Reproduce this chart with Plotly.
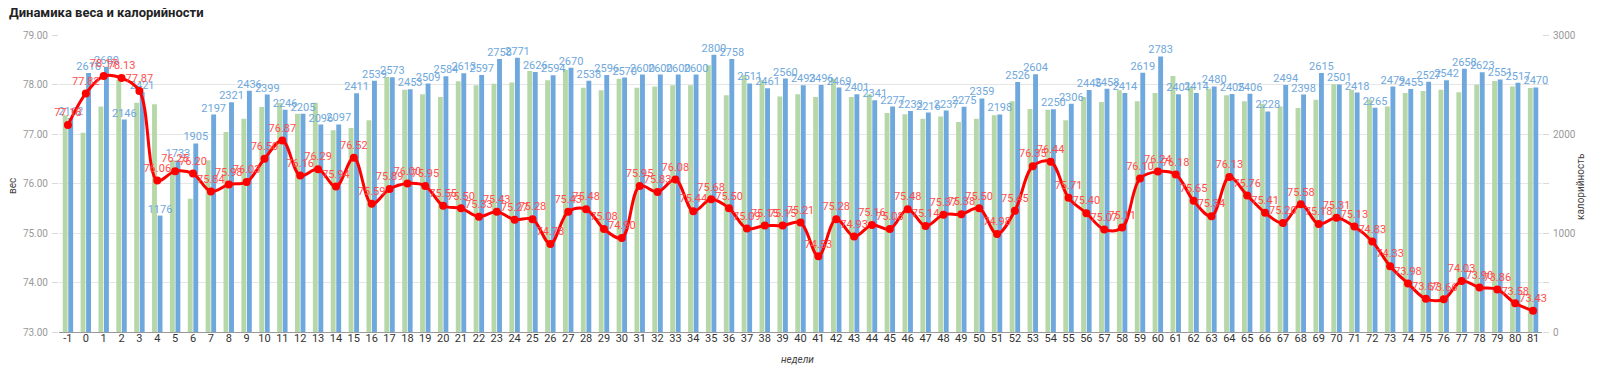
import plotly.graph_objects as go

weeks = [str(w) for w in range(-1, 82)]

weight = [77.18, 77.82, 78.17, 78.13, 77.87, 76.06, 76.25, 76.20, 75.84, 75.98,
          76.03, 76.50, 76.87, 76.16, 76.29, 75.94, 76.52, 75.59, 75.89, 76.00,
          75.95, 75.55, 75.50, 75.33, 75.43, 75.27, 75.28, 74.78, 75.43, 75.48,
          75.08, 74.90, 75.95, 75.83, 76.08, 75.44, 75.68, 75.50, 75.09, 75.15,
          75.15, 75.21, 74.53, 75.28, 74.93, 75.16, 75.08, 75.48, 75.14, 75.37,
          75.38, 75.50, 74.98, 75.45, 76.35, 76.44, 75.71, 75.40, 75.07, 75.11,
          76.10, 76.24, 76.18, 75.65, 75.34, 76.13, 75.76, 75.41, 75.20, 75.58,
          75.18, 75.31, 75.13, 74.83, 74.33, 73.98, 73.67, 73.66, 74.03, 73.90,
          73.86, 73.58, 73.43]

calories = [2162, 2616, 2680, 2146, 2421, 1176, 1733, 1905, 2197, 2321,
            2436, 2399, 2246, 2205, 2096, 2097, 2411, 2539, 2573, 2453,
            2509, 2584, 2613, 2597, 2758, 2771, 2626, 2594, 2670, 2538,
            2596, 2570, 2600, 2600, 2600, 2600, 2800, 2758, 2511, 2461,
            2560, 2493, 2496, 2469, 2401, 2341, 2277, 2233, 2216, 2237,
            2275, 2359, 2198, 2526, 2604, 2250, 2306, 2445, 2458, 2414,
            2619, 2783, 2401, 2414, 2480, 2405, 2406, 2228, 2494, 2398,
            2615, 2501, 2418, 2265, 2479, 2455, 2527, 2542, 2658, 2623,
            2551, 2517, 2470]

norm = [2189, 2013, 2279, 2549, 2316, 2300, 1734, 1347, 1734, 2020,
        2155, 2273, 2313, 2205, 2316, 2037, 2061, 2138, 2576, 2448,
        2401, 2374, 2532, 2492, 2508, 2519, 2636, 2542, 2650, 2468,
        2441, 2559, 2468, 2481, 2492, 2492, 2694, 2391, 2593, 2542,
        2380, 2401, 2374, 2559, 2374, 2401, 2212, 2199, 2155, 2178,
        2121, 2155, 2189, 2330, 2253, 2246, 2138, 2374, 2323, 2441,
        2330, 2414, 2586, 2481, 2458, 2391, 2330, 2306, 2279, 2263,
        2347, 2502, 2448, 2347, 2279, 2414, 2434, 2448, 2421, 2498,
        2535, 2481, 2465]

FONT = "Roboto"
OFF = 8  # page body margin in the browser
W, H = 1600 - OFF, 374 - OFF
# target plot box in window pixels: left 59, right 1542, top 35, bottom 332
ML, MR, MT, MB = 59 - OFF, 1600 - 1542, 35 - OFF, 374 - 332
PW, PH = W - ML - MR, H - MT - MB


def px_x(x):
    return (x - OFF - ML) / PW


def px_y(y):
    return (H - MB - (y - OFF)) / PH


fig = go.Figure()
fig.add_trace(go.Bar(x=weeks, y=norm, name="норма", marker_color="#b6d7a8",
                     marker_line_width=0, yaxis="y"))
fig.add_trace(go.Bar(x=weeks, y=calories, name="калорийность", marker_color="#6fa8dc",
                     marker_line_width=0, yaxis="y",
                     text=[str(v) for v in calories], textposition="outside",
                     textfont=dict(color="#6fa8dc", size=11, family=FONT),
                     constraintext="none", cliponaxis=False))
fig.add_trace(go.Scatter(x=weeks, y=weight, name="вес", yaxis="y2",
                         mode="lines+markers+text",
                         line=dict(color="#ff0000", width=3, shape="spline", smoothing=1),
                         marker=dict(color="#ff0000", size=8),
                         text=[f"{v:.2f}" for v in weight], textposition="top center",
                         textfont=dict(color="#ff4d4d", size=11, family=FONT),
                         cliponaxis=False))

fig.update_layout(
    width=W, height=H,
    margin=dict(l=ML, r=MR, t=MT, b=MB),
    paper_bgcolor="white", plot_bgcolor="white",
    showlegend=False,
    barmode="group", bargap=0.38, bargroupgap=0.12,
    font=dict(family=FONT, color="#444"),
    xaxis=dict(type="category", range=[-0.5, len(weeks) - 0.5], autorange=False,
               automargin=False, ticklabelstandoff=-4,
               showgrid=False, showline=True, linecolor="#999",
               linewidth=1, ticks="", tickfont=dict(size=11, color="#333")),
    yaxis=dict(side="right", range=[0, 3000], tickvals=[0, 1000, 2000, 3000],
               automargin=False,
               showgrid=False, zeroline=False, tickfont=dict(size=10, color="#999"),
               ticks="outside", ticklen=6, tickcolor="#d9d9d9",
               minor=dict(dtick=500, ticks="outside", ticklen=6, tickcolor="#d9d9d9"),
               ticklabelstandoff=2),
    yaxis2=dict(side="left", overlaying="y", range=[73, 79], dtick=1, tickformat=".2f",
                automargin=False,
                showgrid=True, gridcolor="#e6e6e6", zeroline=False,
                ticks="outside", ticklen=6, tickcolor="#d9d9d9",
                tickfont=dict(size=10, color="#999"), ticklabelstandoff=2),
    annotations=[
        dict(text="<b>Динамика веса и калорийности</b>", xref="paper", yref="paper",
             x=px_x(7), y=px_y(13), xanchor="left", yanchor="middle", showarrow=False,
             font=dict(size=13, color="#222", family=FONT)),
        dict(text="вес", xref="paper", yref="paper", x=px_x(12), y=px_y(186),
             xanchor="center", yanchor="middle", textangle=-90, showarrow=False,
             font=dict(size=10, color="#444", family=FONT)),
        dict(text="калорийность", xref="paper", yref="paper", x=px_x(1580), y=px_y(187),
             xanchor="center", yanchor="middle", textangle=-90, showarrow=False,
             font=dict(size=10, color="#444", family=FONT)),
        dict(text="<i>недели</i>", xref="paper", yref="paper", x=px_x(797), y=px_y(359),
             xanchor="center", yanchor="middle", showarrow=False,
             font=dict(size=10, color="#444", family=FONT)),
    ],
)

fig.write_html("out.html")
